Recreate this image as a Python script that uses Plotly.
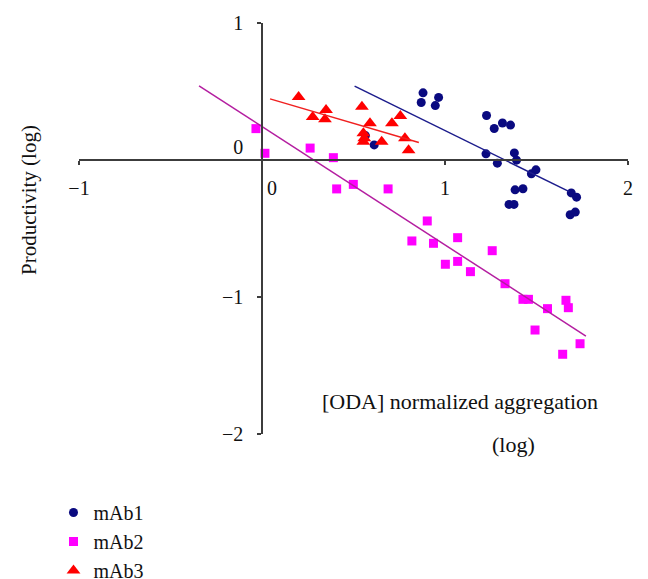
import plotly.graph_objects as go

# ---- data ----
mab1_x = [0.88, 0.87, 0.965, 0.947, 0.565, 0.613, 1.227, 1.269, 1.314, 1.358, 1.224, 1.286,
          1.379, 1.391, 1.472, 1.497, 1.383, 1.426, 1.350, 1.377, 1.690, 1.719, 1.684, 1.712]
mab1_y = [0.49, 0.42, 0.457, 0.397, 0.178, 0.11, 0.325, 0.23, 0.27, 0.255, 0.045, -0.023,
          0.052, -0.001, -0.101, -0.072, -0.218, -0.21, -0.324, -0.324, -0.24, -0.271, -0.40, -0.38]

mab2_x = [-0.033, 0.016, 0.263, 0.390, 0.408, 0.499, 0.689, 0.903, 0.819, 0.937, 1.069, 1.002,
          1.069, 1.139, 1.258, 1.328, 1.426, 1.456, 1.560, 1.661, 1.674, 1.492, 1.738, 1.643]
mab2_y = [0.229, 0.049, 0.087, 0.017, -0.211, -0.178, -0.211, -0.445, -0.591, -0.608, -0.567, -0.761,
          -0.740, -0.815, -0.662, -0.903, -1.017, -1.017, -1.085, -1.024, -1.078, -1.241, -1.341, -1.418]

mab3_x = [0.200, 0.277, 0.350, 0.344, 0.546, 0.590, 0.710, 0.756, 0.554, 0.559, 0.554, 0.654, 0.781, 0.801]
mab3_y = [0.460, 0.314, 0.365, 0.297, 0.389, 0.268, 0.268, 0.321, 0.195, 0.158, 0.134, 0.134, 0.158, 0.071]

# trend lines (end points)
fit1_x = [0.506, 1.679]
fit1_y = [0.539, -0.231]
fit2_x = [-0.344, 1.770]
fit2_y = [0.541, -1.285]
fit3_x = [0.044, 0.857]
fit3_y = [0.446, 0.128]

x_tickvals = [-1, 0, 1, 2]
x_ticktext = ["\u22121", "\u00a0\u00a0\u00a0\u00a00", "1", "2"]
y_tickvals = [-2, -1, 0, 1]
y_ticktext = ["\u22122", "\u22121", "0<br>\u00a0", "1"]

series_names = ["mAb1", "mAb2", "mAb3"]
x_title = "[ODA] normalized aggregation"
x_title2 = "(log)"
y_title = "Productivity (log)"

FONT = "Liberation Serif"
AXC = "#3c3c3c"
TXT = "#111111"

# figure is 8px smaller than the window: the page body adds an 8px margin
W, H = 640, 571
L, R, T, B = 71, 20, 15, 145
PW, PH = W - L - R, H - T - B


def px(xp):
    return (xp - L) / PW


def py(yp):
    return 1 - (yp - T) / PH


fig = go.Figure()
fig.add_trace(go.Scatter(x=mab1_x, y=mab1_y, mode="markers", name=series_names[0],
                         marker=dict(symbol="circle", size=9, color="#0a0a80")))
fig.add_trace(go.Scatter(x=mab2_x, y=mab2_y, mode="markers", name=series_names[1],
                         marker=dict(symbol="square", size=9, color="#ff00ff")))
fig.add_trace(go.Scatter(x=mab3_x, y=mab3_y, mode="markers", name=series_names[2],
                         marker=dict(symbol="triangle-up", size=12, color="#ff0000")))
fig.add_trace(go.Scatter(x=fit1_x, y=fit1_y, mode="lines", showlegend=False,
                         line=dict(color="#1c1c8c", width=1.5), hoverinfo="skip"))
fig.add_trace(go.Scatter(x=fit2_x, y=fit2_y, mode="lines", showlegend=False,
                         line=dict(color="#b41ea0", width=1.5), hoverinfo="skip"))
fig.add_trace(go.Scatter(x=fit3_x, y=fit3_y, mode="lines", showlegend=False,
                         line=dict(color="#f02020", width=1.5), hoverinfo="skip"))

fig.update_layout(
    width=W, height=H,
    margin=dict(l=L, r=R, t=T, b=B, autoexpand=False),
    paper_bgcolor="white", plot_bgcolor="white",
    font=dict(family=FONT, size=20, color=TXT),
    xaxis=dict(range=[-1, 2], anchor="free", position=2/3, side="bottom",
               showgrid=False, zeroline=False, showline=True, linecolor=AXC, linewidth=1.6,
               ticks="outside", ticklen=4, tickwidth=1.5, tickcolor=AXC,
               tickvals=x_tickvals, ticktext=x_ticktext, ticklabelstandoff=6,
               tickfont=dict(family=FONT, size=20, color=TXT)),
    yaxis=dict(range=[-2, 1], anchor="free", position=1/3, side="left",
               showgrid=False, zeroline=False, showline=True, linecolor=AXC, linewidth=1.6,
               ticks="outside", ticklen=4, tickwidth=1.5, tickcolor=AXC,
               tickvals=y_tickvals, ticktext=y_ticktext, ticklabelstandoff=10,
               tickfont=dict(family=FONT, size=20, color=TXT)),
    showlegend=True,
    legend=dict(x=px(45.5), y=py(485), xanchor="left", yanchor="top",
                bgcolor="rgba(0,0,0,0)", borderwidth=0, tracegroupgap=0,
                font=dict(family=FONT, size=20, color=TXT)),
    annotations=[
        dict(text=y_title, xref="paper", yref="paper", x=px(21), y=py(192),
             textangle=-90, showarrow=False, xanchor="center", yanchor="middle",
             font=dict(family=FONT, size=21, color=TXT)),
        dict(text=x_title, xref="paper", yref="paper", x=px(452), y=py(393),
             showarrow=False, xanchor="center", yanchor="middle",
             font=dict(family=FONT, size=22, color=TXT)),
        dict(text=x_title2, xref="paper", yref="paper", x=px(505), y=py(436),
             showarrow=False, xanchor="center", yanchor="middle",
             font=dict(family=FONT, size=22, color=TXT)),
    ],
)

fig.write_html("out.html")
